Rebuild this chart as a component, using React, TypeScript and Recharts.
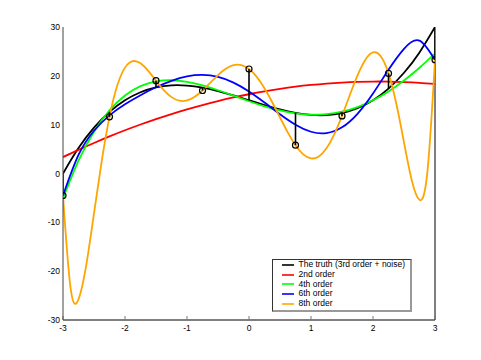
import { ComposedChart, Legend, Line, ReferenceLine, XAxis, YAxis } from "recharts"

const FONT = '"Liberation Sans", Arial, Helvetica, sans-serif'

const xTicks = [-3, -2, -1, 0, 1, 2, 3]
const topTicks = [-2, -1, 0, 1, 2]
const yTicks = [-30, -20, -10, 0, 10, 20, 30]

// curves read every 0.25
const xCoarse = [-3, -2.75, -2.5, -2.25, -2, -1.75, -1.5, -1.25, -1, -0.75, -0.5, -0.25, 0, 0.25, 0.5, 0.75, 1, 1.25, 1.5, 1.75, 2, 2.25, 2.5, 2.75, 3]
const truth = [0, 5.2, 9.38, 12.61, 15.0, 16.64, 17.63, 18.05, 18.0, 17.58, 16.88, 15.98, 15.0, 14.02, 13.13, 12.42, 12.0, 11.95, 12.38, 13.36, 15.0, 17.39, 20.63, 24.8, 30.0]
const fit2 = [3.36, 4.85, 6.25, 7.59, 8.85, 10.03, 11.14, 12.18, 13.14, 14.02, 14.84, 15.57, 16.23, 16.82, 17.33, 17.77, 18.13, 18.42, 18.63, 18.77, 18.83, 18.82, 18.73, 18.57, 18.34]
const fit4 = [-5.13, 2.63, 8.57, 12.95, 15.98, 17.88, 18.86, 19.1, 18.78, 18.05, 17.05, 15.93, 14.8, 13.76, 12.91, 12.31, 12.04, 12.15, 12.66, 13.6, 14.99, 16.8, 19.04, 21.65, 24.6]
const fit6 = [-4.53, 3.79, 8.76, 11.91, 14.18, 16.04, 17.66, 18.98, 19.88, 20.18, 19.77, 18.62, 16.8, 14.53, 12.12, 9.98, 8.55, 8.28, 9.46, 12.23, 16.38, 21.24, 25.53, 27.2, 23.2]

// the 8th order wiggles more, so it is read every 0.125
const xFine = [-3, -2.875, -2.75, -2.625, -2.5, -2.375, -2.25, -2.125, -2, -1.875, -1.75, -1.625, -1.5, -1.375, -1.25, -1.125, -1, -0.875, -0.75, -0.625, -0.5, -0.375, -0.25, -0.125, 0, 0.125, 0.25, 0.375, 0.5, 0.625, 0.75, 0.875, 1, 1.125, 1.25, 1.375, 1.5, 1.625, 1.75, 1.875, 2, 2.125, 2.25, 2.375, 2.5, 2.625, 2.75, 2.875, 3]
const fit8 = [-4.5, -23.71, -25.76, -18.76, -8.16, 2.6, 11.6, 18.0, 21.68, 23.01, 22.56, 21.0, 19.0, 17.08, 15.64, 14.91, 14.95, 15.71, 17.0, 18.57, 20.14, 21.43, 22.17, 22.2, 21.4, 19.79, 17.45, 14.59, 11.47, 8.43, 5.8, 3.93, 3.1, 3.49, 5.17, 8.03, 11.8, 16.02, 20.09, 23.26, 24.79, 24.01, 20.5, 14.34, 6.39, -1.38, -5.4, 0.02, 23.3]

// noisy samples and the truth underneath them
const sampleX = [-3, -2.25, -1.5, -0.75, 0, 0.75, 1.5, 2.25, 3]
const samples = [-4.5, 11.6, 19.0, 17.0, 21.4, 5.8, 11.8, 20.5, 23.3]
const sampleTruth = [0, 12.61, 17.63, 17.58, 15.0, 12.42, 12.38, 17.39, 30.0]

const seriesNames = ["The truth (3rd order + noise)", "2nd order", "4th order", "6th order", "8th order"]
const seriesColors = ["#000000", "#ff0000", "#00ff00", "#0000ff", "#ffa500"]

const toPoints = (xs: number[], ys: number[]) => xs.map((x, i) => ({ x, y: ys[i] }))

const curves = [
  toPoints(xCoarse, truth),
  toPoints(xCoarse, fit2),
  toPoints(xCoarse, fit4),
  toPoints(xCoarse, fit6),
  toPoints(xFine, fit8),
]
const samplePoints = toPoints(sampleX, samples)

function LegendBox() {
  return (
    <div
      style={{
        background: "#fff",
        borderLeft: "1px solid #333",
        borderTop: "1px solid #333",
        borderRight: "2px solid #999",
        borderBottom: "2px solid #999",
        padding: "0 5px 1px 9px",
        fontFamily: FONT,
        fontSize: 8.5,
        lineHeight: "9.8px",
        color: "#000",
        whiteSpace: "nowrap",
      }}
    >
      {seriesNames.map((name, i) => (
        <div key={name} style={{ display: "flex", alignItems: "center", height: 9.8 }}>
          <svg width={12} height={4} style={{ marginRight: 4.5 }}>
            <line x1={0} x2={12} y1={2} y2={2} stroke={seriesColors[i]} strokeWidth={1.6} />
          </svg>
          <span>{name}</span>
        </div>
      ))}
    </div>
  )
}

export default function App() {
  const tickStyle = { fill: "#000", fontSize: 8.5, fontFamily: FONT }
  return (
    <div style={{ position: "absolute", left: 0, top: 0, width: 481, height: 360, background: "#fff" }}>
      <ComposedChart width={481} height={360} margin={{ top: 17, right: 46, bottom: 20, left: 0 }}>
        <XAxis
          xAxisId="b"
          type="number"
          dataKey="x"
          domain={[-3, 3]}
          ticks={xTicks}
          interval={0}
          allowDataOverflow
          height={20}
          axisLine={{ stroke: "#000" }}
          tickLine={{ stroke: "#777" }}
          tickSize={-4}
          tickMargin={9}
          tick={tickStyle}
        />
        <XAxis
          xAxisId="t"
          orientation="top"
          type="number"
          dataKey="x"
          domain={[-3, 3]}
          ticks={topTicks}
          interval={0}
          allowDataOverflow
          height={10}
          axisLine={false}
          tickLine={{ stroke: "#999" }}
          tickSize={-4}
          tick={false}
        />
        <YAxis
          type="number"
          dataKey="y"
          domain={[-30, 30]}
          ticks={yTicks}
          interval={0}
          allowDataOverflow
          width={63}
          axisLine={{ stroke: "#444" }}
          tickLine={false}
          tickSize={0}
          tickMargin={3}
          tick={tickStyle}
        />
        <ReferenceLine xAxisId="b" x={3} stroke="#000" strokeWidth={1} />

        {curves.map((pts, i) => (
          <Line
            key={seriesNames[i]}
            xAxisId="b"
            data={pts}
            dataKey="y"
            name={seriesNames[i]}
            type="natural"
            stroke={seriesColors[i]}
            strokeWidth={1.8}
            dot={false}
            activeDot={false}
            isAnimationActive={false}
          />
        ))}

        {sampleX.map((x, i) => (
          <Line
            key={"stick" + i}
            xAxisId="b"
            data={[{ x, y: sampleTruth[i] }, { x, y: samples[i] }]}
            dataKey="y"
            type="linear"
            stroke="#000"
            strokeWidth={1.6}
            dot={false}
            activeDot={false}
            legendType="none"
            isAnimationActive={false}
          />
        ))}
        <Line
          xAxisId="b"
          data={samplePoints}
          dataKey="y"
          stroke="none"
          dot={{ r: 3, stroke: "#000", strokeWidth: 1.2, fill: "none" }}
          activeDot={false}
          legendType="none"
          isAnimationActive={false}
        />

        <Legend
          layout="vertical"
          align="center"
          verticalAlign="middle"
          wrapperStyle={{ left: 272, top: 259, width: "auto", height: "auto" }}
          content={() => <LegendBox />}
        />
      </ComposedChart>
    </div>
  )
}
